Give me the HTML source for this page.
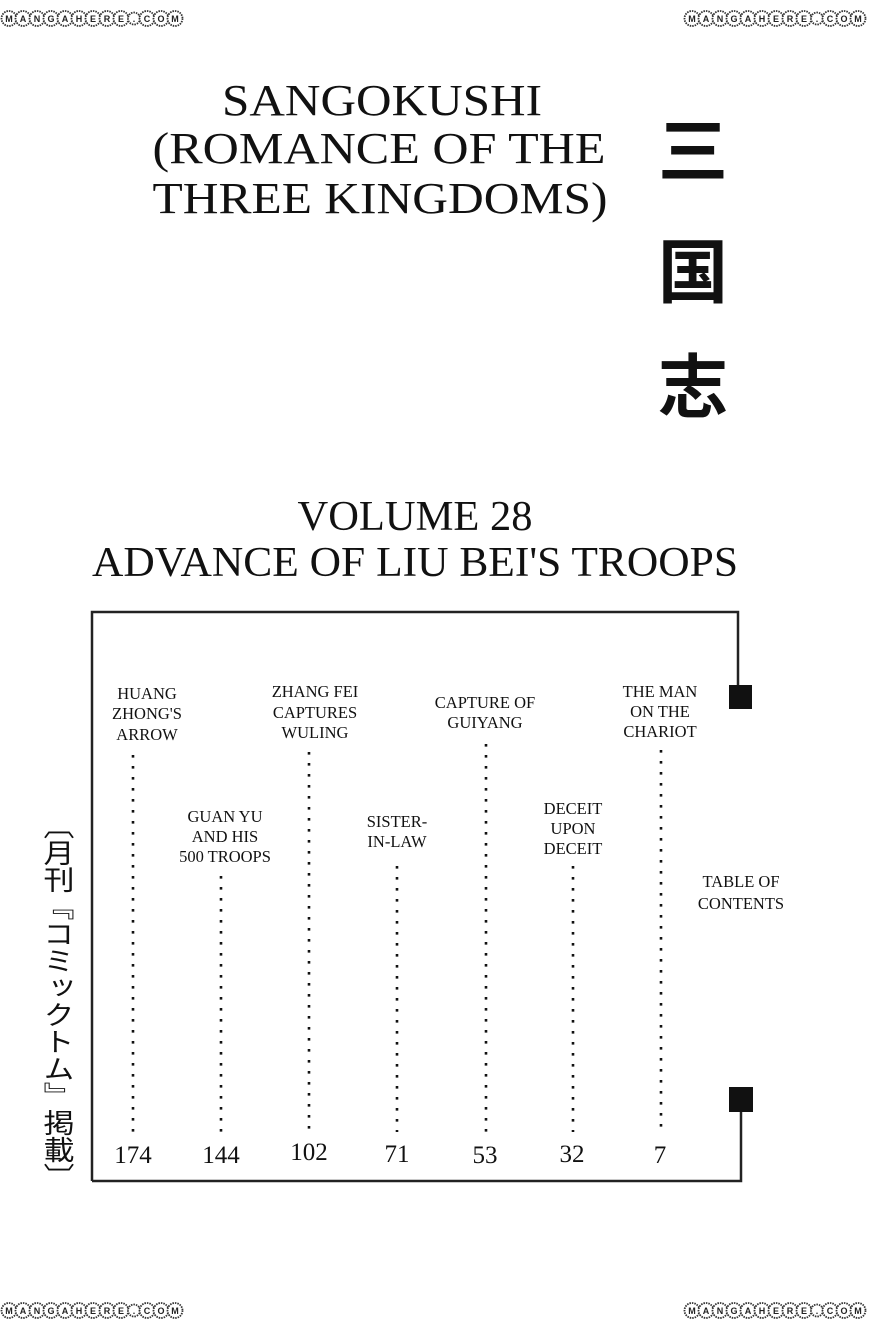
<!DOCTYPE html>
<html><head><meta charset="utf-8"><style>
html,body{margin:0;padding:0;background:#fff;}
svg{display:block;}
.t{font-family:"Liberation Serif",serif;fill:#111;}
.l{font-family:"Liberation Serif",serif;fill:#111;font-size:16.5px;text-anchor:middle;}
.n{font-family:"Liberation Serif",serif;fill:#111;font-size:25px;text-anchor:middle;}
.wm{font-family:"Liberation Sans",sans-serif;font-size:9px;font-weight:bold;fill:#222;text-anchor:middle;}
</style></head><body>
<svg width="869" height="1329" viewBox="0 0 869 1329" xmlns="http://www.w3.org/2000/svg">
<defs>
<g id="wm">
<g fill="#fff" stroke="#333" stroke-width="1.8" stroke-dasharray="1.5 1">
<circle cx="8" cy="9.5" r="7.5"/><circle cx="22" cy="9.5" r="7.5"/><circle cx="36" cy="9.5" r="7.5"/><circle cx="50" cy="9.5" r="7.5"/><circle cx="64" cy="9.5" r="7.5"/><circle cx="78" cy="9.5" r="7.5"/><circle cx="92" cy="9.5" r="7.5"/><circle cx="106" cy="9.5" r="7.5"/><circle cx="120" cy="9.5" r="7.5"/><circle cx="133" cy="9.5" r="6"/><circle cx="146" cy="9.5" r="7.5"/><circle cx="160" cy="9.5" r="7.5"/><circle cx="174" cy="9.5" r="7.5"/>
</g>
<text class="wm" x="8" y="13">M</text><text class="wm" x="22" y="13">A</text><text class="wm" x="36" y="13">N</text><text class="wm" x="50" y="13">G</text><text class="wm" x="64" y="13">A</text><text class="wm" x="78" y="13">H</text><text class="wm" x="92" y="13">E</text><text class="wm" x="106" y="13">R</text><text class="wm" x="120" y="13">E</text><text class="wm" x="133" y="13">.</text><text class="wm" x="146" y="13">C</text><text class="wm" x="160" y="13">O</text><text class="wm" x="174" y="13">M</text>
</g>
</defs>
<use href="#wm" x="1" y="9"/>
<use href="#wm" x="684" y="9"/>
<use href="#wm" x="1" y="1301"/>
<use href="#wm" x="684" y="1301"/>

<text class="t" x="382" y="115" font-size="44" text-anchor="middle" textLength="320" lengthAdjust="spacingAndGlyphs">SANGOKUSHI</text>
<text class="t" x="379" y="163" font-size="44" text-anchor="middle" textLength="453" lengthAdjust="spacingAndGlyphs">(ROMANCE OF THE</text>
<text class="t" x="380" y="213" font-size="44" text-anchor="middle" textLength="455" lengthAdjust="spacingAndGlyphs">THREE KINGDOMS)</text>

<g font-family="'Noto Sans CJK JP',sans-serif" font-weight="bold" font-size="70" fill="#111" text-anchor="middle">
<text x="693" y="176">三</text>
<text x="693" y="297">国</text>
<text x="693" y="412">志</text>
</g>

<text class="t" x="415" y="530" font-size="42" text-anchor="middle" textLength="235" lengthAdjust="spacingAndGlyphs">VOLUME 28</text>
<text class="t" x="415" y="576" font-size="42" text-anchor="middle" textLength="646" lengthAdjust="spacingAndGlyphs">ADVANCE OF LIU BEI'S TROOPS</text>

<path d="M92 1181 V612 H738 V686" fill="none" stroke="#222" stroke-width="2.5"/>
<rect x="729" y="685" width="23" height="24" fill="#111"/>
<path d="M92 1181 H741 V1110" fill="none" stroke="#222" stroke-width="2.5"/>
<rect x="729" y="1087" width="24" height="25" fill="#111"/>

<g stroke="#111" stroke-width="2.6" stroke-dasharray="2.6 8.4" fill="none">
<line x1="133" y1="755" x2="133" y2="1132"/>
<line x1="221" y1="876" x2="221" y2="1132"/>
<line x1="309" y1="752" x2="309" y2="1132"/>
<line x1="397" y1="866" x2="397" y2="1132"/>
<line x1="486" y1="744" x2="486" y2="1132"/>
<line x1="573" y1="866" x2="573" y2="1132"/>
<line x1="661" y1="750" x2="661" y2="1132"/>
</g>

<text class="l" x="147" y="699">HUANG</text><text class="l" x="147" y="719">ZHONG'S</text><text class="l" x="147" y="740">ARROW</text>
<text class="l" x="315" y="697">ZHANG FEI</text><text class="l" x="315" y="718">CAPTURES</text><text class="l" x="315" y="738">WULING</text>
<text class="l" x="485" y="708">CAPTURE OF</text><text class="l" x="485" y="728">GUIYANG</text>
<text class="l" x="660" y="697">THE MAN</text><text class="l" x="660" y="717">ON THE</text><text class="l" x="660" y="737">CHARIOT</text>
<text class="l" x="225" y="822">GUAN YU</text><text class="l" x="225" y="842">AND HIS</text><text class="l" x="225" y="862">500 TROOPS</text>
<text class="l" x="397" y="827">SISTER-</text><text class="l" x="397" y="847">IN-LAW</text>
<text class="l" x="573" y="814">DECEIT</text><text class="l" x="573" y="834">UPON</text><text class="l" x="573" y="854">DECEIT</text>
<text class="l" x="741" y="887">TABLE OF</text><text class="l" x="741" y="909">CONTENTS</text>

<text class="n" x="133" y="1163">174</text>
<text class="n" x="221" y="1163">144</text>
<text class="n" x="309" y="1160">102</text>
<text class="n" x="397" y="1162">71</text>
<text class="n" x="485" y="1163">53</text>
<text class="n" x="572" y="1162">32</text>
<text class="n" x="660" y="1163">7</text>

<text x="59" y="812" font-family="'Noto Sans CJK JP',sans-serif" font-size="31" fill="#111" style="writing-mode:vertical-rl;" textLength="378" lengthAdjust="spacingAndGlyphs">〔月刊『コミックトム』掲載〕</text>
</svg>
</body></html>
